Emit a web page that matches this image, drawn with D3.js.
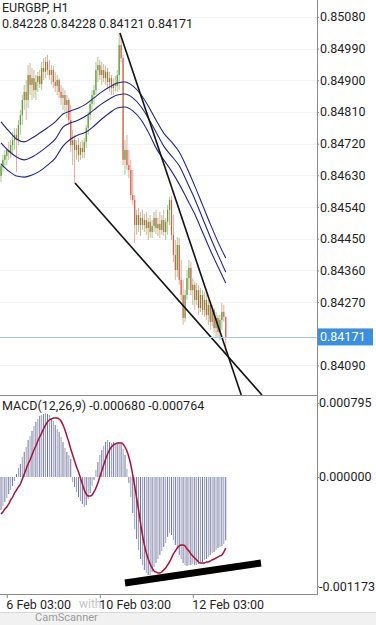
<!DOCTYPE html>
<html>
<head>
<meta charset="utf-8">
<script src="https://cdn.jsdelivr.net/npm/d3@7"></script>
<style>
  body { margin: 0; background: #fff; }
  svg { display: block; font-family: Roboto, "Noto Sans", sans-serif; }
</style>
</head>
<body>
<div id="chart"></div>
<script>
// EURGBP H1 bars, bar 0 = 6 Feb 00:00, last bar = 12 Feb 19:00
var opens = [0.84628,0.84657,0.84674,0.84685,0.84702,0.84696,0.84716,0.84730,0.84745,0.84730,
  0.84773,0.84801,0.84844,0.84867,0.84844,0.84915,0.84887,0.84906,0.84872,0.84895,
  0.84912,0.84889,0.84935,0.84924,0.84952,0.84929,0.84915,0.84929,0.84895,0.84884,
  0.84901,0.84867,0.84850,0.84858,0.84830,0.84844,0.84787,0.84716,0.84730,0.84702,
  0.84716,0.84688,0.84708,0.84696,0.84725,0.84764,0.84801,0.84833,0.84858,0.84872,
  0.84929,0.84943,0.84915,0.84929,0.84906,0.84924,0.84895,0.84906,0.84878,0.84889,
  0.84884,0.84915,0.85000,0.84963,0.84674,0.84702,0.84659,0.84645,0.84574,0.84560,
  0.84489,0.84517,0.84489,0.84509,0.84489,0.84503,0.84480,0.84498,0.84469,0.84486,
  0.84509,0.84480,0.84492,0.84475,0.84503,0.84469,0.84498,0.84532,0.84560,0.84461,
  0.84404,0.84361,0.84432,0.84333,0.84290,0.84225,0.84290,0.84338,0.84367,0.84304,
  0.84319,0.84276,0.84304,0.84253,0.84290,0.84248,0.84276,0.84233,0.84262,0.84214,
  0.84248,0.84196,0.84225,0.84185,0.84219,0.84242,0.84228];
var highs = [0.84665,0.84688,0.84702,0.84708,0.84725,0.84730,0.84753,0.84764,0.84764,0.84787,
  0.84816,0.84858,0.84887,0.84901,0.84943,0.84949,0.84935,0.84929,0.84915,0.84924,
  0.84929,0.84952,0.84963,0.84966,0.84972,0.84958,0.84943,0.84941,0.84924,0.84915,
  0.84906,0.84887,0.84878,0.84872,0.84858,0.84850,0.84830,0.84759,0.84745,0.84730,
  0.84736,0.84725,0.84730,0.84736,0.84773,0.84810,0.84844,0.84872,0.84887,0.84952,
  0.84966,0.84958,0.84952,0.84946,0.84941,0.84935,0.84924,0.84915,0.84906,0.84912,
  0.84929,0.85034,0.85026,0.84972,0.84730,0.84745,0.84702,0.84674,0.84645,0.84574,
  0.84532,0.84537,0.84526,0.84532,0.84520,0.84526,0.84509,0.84517,0.84503,0.84526,
  0.84532,0.84509,0.84526,0.84517,0.84532,0.84509,0.84546,0.84569,0.84571,0.84517,
  0.84446,0.84455,0.84452,0.84390,0.84333,0.84304,0.84361,0.84390,0.84384,0.84338,
  0.84327,0.84324,0.84319,0.84310,0.84304,0.84299,0.84290,0.84276,0.84270,0.84262,
  0.84253,0.84242,0.84233,0.84233,0.84267,0.84262,0.84228];
var lows = [0.84611,0.84640,0.84651,0.84659,0.84674,0.84679,0.84688,0.84702,0.84640,0.84716,
  0.84745,0.84773,0.84816,0.84787,0.84821,0.84858,0.84844,0.84850,0.84844,0.84867,
  0.84878,0.84872,0.84901,0.84906,0.84915,0.84901,0.84887,0.84878,0.84867,0.84858,
  0.84850,0.84830,0.84816,0.84810,0.84793,0.84773,0.84696,0.84659,0.84608,0.84674,
  0.84668,0.84674,0.84679,0.84679,0.84708,0.84745,0.84787,0.84816,0.84830,0.84858,
  0.84895,0.84901,0.84887,0.84895,0.84887,0.84878,0.84867,0.84858,0.84858,0.84867,
  0.84867,0.84872,0.84952,0.84659,0.84631,0.84645,0.84622,0.84560,0.84546,0.84438,
  0.84461,0.84469,0.84458,0.84475,0.84469,0.84461,0.84446,0.84452,0.84452,0.84469,
  0.84463,0.84458,0.84452,0.84461,0.84458,0.84446,0.84461,0.84489,0.84446,0.84384,
  0.84333,0.84341,0.84319,0.84276,0.84205,0.84214,0.84276,0.84304,0.84290,0.84262,
  0.84248,0.84262,0.84233,0.84242,0.84233,0.84228,0.84219,0.84205,0.84191,0.84202,
  0.84182,0.84171,0.84168,0.84162,0.84191,0.84214,0.84121];
var closes = [0.84657,0.84674,0.84688,0.84702,0.84696,0.84716,0.84730,0.84745,0.84730,0.84773,
  0.84801,0.84844,0.84867,0.84844,0.84915,0.84887,0.84906,0.84872,0.84895,0.84912,
  0.84889,0.84935,0.84924,0.84952,0.84929,0.84915,0.84929,0.84895,0.84884,0.84901,
  0.84867,0.84850,0.84858,0.84830,0.84844,0.84787,0.84716,0.84730,0.84702,0.84716,
  0.84688,0.84708,0.84696,0.84725,0.84764,0.84801,0.84833,0.84858,0.84872,0.84929,
  0.84943,0.84915,0.84929,0.84906,0.84924,0.84895,0.84906,0.84878,0.84889,0.84884,
  0.84915,0.85000,0.84963,0.84674,0.84702,0.84659,0.84645,0.84574,0.84560,0.84489,
  0.84517,0.84489,0.84509,0.84489,0.84503,0.84480,0.84498,0.84469,0.84486,0.84509,
  0.84480,0.84492,0.84475,0.84503,0.84469,0.84498,0.84532,0.84560,0.84461,0.84404,
  0.84361,0.84432,0.84333,0.84290,0.84225,0.84290,0.84338,0.84367,0.84304,0.84319,
  0.84276,0.84304,0.84253,0.84290,0.84248,0.84276,0.84233,0.84262,0.84214,0.84248,
  0.84196,0.84225,0.84185,0.84219,0.84242,0.84228,0.84171];

// three moving average lines, read every 4th bar
var maIdx = [0,4,8,12,16,20,24,28,32,36,40,44,48,52,56,60,64,68,72,76,80,84,88,92,96,100,104,108,112,116];
var maUpper = [0.84782,0.84756,0.84733,0.84725,0.84736,0.84750,0.84765,0.84782,0.84804,0.84813,
  0.84821,0.84833,0.84850,0.84867,0.84881,0.84892,0.84895,0.84884,0.84861,0.84827,
  0.84787,0.84750,0.84725,0.84696,0.84651,0.84600,0.84546,0.84492,0.84441,0.84395];
var maMiddle = [0.84722,0.84699,0.84682,0.84674,0.84682,0.84696,0.84713,0.84733,0.84767,0.84779,
  0.84787,0.84799,0.84816,0.84833,0.84847,0.84858,0.84861,0.84850,0.84827,0.84793,
  0.84753,0.84713,0.84685,0.84657,0.84611,0.84563,0.84509,0.84455,0.84404,0.84355];
var maLower = [0.84662,0.84642,0.84628,0.84625,0.84631,0.84642,0.84659,0.84679,0.84713,0.84733,
  0.84745,0.84753,0.84770,0.84790,0.84807,0.84821,0.84824,0.84813,0.84790,0.84753,
  0.84708,0.84674,0.84642,0.84605,0.84563,0.84520,0.84469,0.84418,0.84370,0.84324];

// MACD(12,26,9): histogram (main) and signal line
var macdMain = [-0.000354,-0.000311,-0.000269,-0.000226,-0.000183,-0.000140,-0.000097,-0.000043,0.000032,0.000097,
  0.000140,0.000215,0.000269,0.000322,0.000397,0.000440,0.000494,0.000548,0.000591,0.000623,
  0.000655,0.000666,0.000677,0.000687,0.000677,0.000666,0.000634,0.000601,0.000558,0.000516,
  0.000483,0.000430,0.000376,0.000311,0.000269,0.000236,0.000193,-0.000054,-0.000107,-0.000161,
  -0.000215,-0.000258,-0.000290,-0.000322,-0.000301,-0.000236,-0.000172,-0.000097,-0.000032,0.000075,
  0.000161,0.000236,0.000290,0.000333,0.000376,0.000397,0.000376,0.000365,0.000376,0.000365,
  0.000354,0.000376,0.000354,0.000301,0.000236,0.000086,-0.000064,-0.000215,-0.000387,-0.000558,
  -0.000666,-0.000784,-0.000881,-0.000945,-0.000999,-0.001031,-0.001053,-0.001053,-0.001020,-0.000967,
  -0.000924,-0.000881,-0.000838,-0.000795,-0.000752,-0.000709,-0.000644,-0.000601,-0.000623,-0.000677,
  -0.000730,-0.000773,-0.000838,-0.000881,-0.000924,-0.000945,-0.000956,-0.000945,-0.000945,-0.000934,
  -0.000945,-0.000945,-0.000934,-0.000924,-0.000913,-0.000891,-0.000881,-0.000859,-0.000838,-0.000816,
  -0.000806,-0.000784,-0.000763,-0.000752,-0.000741,-0.000720,-0.000680];
var macdSignal = [-0.000397,-0.000376,-0.000344,-0.000322,-0.000290,-0.000247,-0.000215,-0.000172,-0.000140,-0.000107,
  -0.000075,-0.000021,0.000032,0.000086,0.000140,0.000183,0.000236,0.000290,0.000333,0.000387,
  0.000430,0.000473,0.000516,0.000558,0.000591,0.000612,0.000623,0.000634,0.000634,0.000634,
  0.000623,0.000601,0.000558,0.000505,0.000440,0.000376,0.000301,0.000236,0.000172,0.000107,
  0.000054,-0.000011,-0.000075,-0.000140,-0.000183,-0.000204,-0.000204,-0.000193,-0.000161,-0.000118,
  -0.000064,0.000000,0.000064,0.000129,0.000193,0.000247,0.000290,0.000322,0.000344,0.000354,
  0.000365,0.000365,0.000365,0.000354,0.000322,0.000279,0.000215,0.000129,0.000021,-0.000097,
  -0.000226,-0.000354,-0.000494,-0.000623,-0.000730,-0.000816,-0.000881,-0.000934,-0.000977,-0.001010,
  -0.001020,-0.001031,-0.001031,-0.001020,-0.000999,-0.000977,-0.000945,-0.000913,-0.000870,-0.000827,
  -0.000795,-0.000763,-0.000741,-0.000730,-0.000730,-0.000741,-0.000773,-0.000795,-0.000827,-0.000848,
  -0.000870,-0.000891,-0.000913,-0.000924,-0.000924,-0.000924,-0.000913,-0.000913,-0.000902,-0.000891,
  -0.000881,-0.000870,-0.000859,-0.000848,-0.000838,-0.000806,-0.000764];

// hand drawn trend lines: [bar index, value]
var trendUpper = [[61.4, 0.85034], [124.0, 0.84006]];
var trendLower = [[38.2, 0.84608], [134.7, 0.84006]];
var trendMacd = [[64.0, -0.001139], [134.2, -0.000924]];

// axis labels
var priceTicks = [0.85080, 0.84990, 0.84900, 0.84810, 0.84720, 0.84630, 0.84540, 0.84450, 0.84360, 0.84270, 0.84090];
var macdTicks = [0.000795, 0.000000, -0.001173];
var timeIdx = [3, 51, 99];
var timeLabels = ["6 Feb 03:00", "10 Feb 03:00", "12 Feb 03:00"];

// -----------------------------------------------------------------------------

var svgWidth = 376;
var svgHeight = 625;
var plotRight = 317;
var mainBottom = 395;
var macdTop = 397;
var macdBottom = 594;

var svg = d3.select("#chart")
  .append("svg")
  .attr("width", svgWidth)
  .attr("height", svgHeight);

svg.append("rect").attr("width", svgWidth).attr("height", svgHeight).attr("fill", "#fff");

var bars = opens.map(function(o, i) {
  return {i: i, open: o, high: highs[i], low: lows[i], close: closes[i]};
});

var x = d3.scaleLinear().domain([0, 163]).range([1, 316.8]);
var y = d3.scaleLinear().domain([0.84006, 0.85128]).range([mainBottom, 0]);
var m = d3.scaleLinear().domain([-0.001257, 0.000859]).range([macdBottom, macdTop]);

var defs = svg.append("defs");
defs.append("clipPath").attr("id", "clipMain")
  .append("rect").attr("x", 0).attr("y", 0).attr("width", plotRight).attr("height", mainBottom);
defs.append("clipPath").attr("id", "clipMacd")
  .append("rect").attr("x", 0).attr("y", macdTop).attr("width", plotRight).attr("height", macdBottom - macdTop);

// -----------------------------------------------------------------------------
// main price panel

var mainGroup = svg.append("g").attr("clip-path", "url(#clipMain)");

// faint grid
mainGroup.selectAll(".hgrid")
  .data(priceTicks)
  .enter().append("line")
  .attr("x1", 0).attr("x2", plotRight)
  .attr("y1", d => Math.round(y(d)) + 0.5).attr("y2", d => Math.round(y(d)) + 0.5)
  .attr("stroke", "#f3f3f5");

var upColor = "#5e9a34", downColor = "#cf5f48";
var upWick = "#a9c98f", downWick = "#e8aa9b";

var barGroup = mainGroup.selectAll(".bar")
  .data(bars)
  .enter().append("g");

barGroup.append("line")
  .attr("x1", d => x(d.i)).attr("x2", d => x(d.i))
  .attr("y1", d => y(d.high)).attr("y2", d => y(d.low))
  .attr("stroke", d => d.close >= d.open ? upWick : downWick)
  .attr("stroke-width", 1);

barGroup.append("rect")
  .attr("x", d => x(d.i) - 0.6)
  .attr("width", 1.2)
  .attr("y", d => y(Math.max(d.open, d.close)))
  .attr("height", d => Math.max(1, Math.abs(y(d.open) - y(d.close))))
  .attr("fill", d => d.close >= d.open ? upColor : downColor);

// moving average lines
var maLine = d3.line()
  .x((d, k) => x(maIdx[k]))
  .y(d => y(d))
  .curve(d3.curveMonotoneX);

[maUpper, maMiddle, maLower].forEach(function(series) {
  mainGroup.append("path")
    .attr("d", maLine(series))
    .attr("fill", "none")
    .attr("stroke", "#22248a")
    .attr("stroke-width", 1.1);
});

// current price line
var lastClose = closes[closes.length - 1];
svg.append("line")
  .attr("x1", 0).attr("x2", plotRight)
  .attr("y1", Math.round(y(lastClose)) + 0.5).attr("y2", Math.round(y(lastClose)) + 0.5)
  .attr("stroke", "#9ec9ea")
  .attr("stroke-width", 1);

// trend lines
var trendLine = d3.line().x(d => x(d[0])).y(d => y(d[1]));
[trendUpper, trendLower].forEach(function(t) {
  mainGroup.append("path")
    .attr("d", trendLine(t))
    .attr("stroke", "#111")
    .attr("stroke-width", 1.6)
    .attr("fill", "none");
});

// -----------------------------------------------------------------------------
// MACD panel

var macdGroup = svg.append("g").attr("clip-path", "url(#clipMacd)");

macdGroup.selectAll(".hist")
  .data(macdMain)
  .enter().append("line")
  .attr("x1", (d, i) => x(i)).attr("x2", (d, i) => x(i))
  .attr("y1", m(0)).attr("y2", d => m(d))
  .attr("stroke", (d, i) => i % 2 ? "#9a9fbd" : "#6f7499")
  .attr("stroke-width", 1);

var sigLine = d3.line()
  .x((d, i) => x(i))
  .y(d => m(d))
  .curve(d3.curveMonotoneX);

macdGroup.append("path")
  .attr("d", sigLine(macdSignal))
  .attr("fill", "none")
  .attr("stroke", "#a8123a")
  .attr("stroke-width", 1.5);

macdGroup.append("path")
  .attr("d", d3.line().x(d => x(d[0])).y(d => m(d[1]))(trendMacd))
  .attr("stroke", "#000")
  .attr("stroke-width", 7)
  .attr("fill", "none");

// -----------------------------------------------------------------------------
// frame and axes

var frameColor = "#8a8a8a";
svg.append("line").attr("x1", plotRight + 0.5).attr("x2", plotRight + 0.5)
  .attr("y1", 0).attr("y2", macdBottom + 1).attr("stroke", frameColor);
svg.append("line").attr("x1", 0).attr("x2", plotRight)
  .attr("y1", mainBottom + 0.5).attr("y2", mainBottom + 0.5).attr("stroke", frameColor);
svg.append("line").attr("x1", 0).attr("x2", plotRight)
  .attr("y1", macdBottom + 0.5).attr("y2", macdBottom + 0.5).attr("stroke", frameColor);

var fontSize = "12.5px";
var textColor = "#1e1e1e";

var priceAxis = svg.append("g")
  .attr("transform", `translate(${plotRight}, 0)`)
  .call(d3.axisRight(y).tickValues(priceTicks).tickFormat(d => d.toFixed(5)).tickSize(2).tickPadding(1));

var macdAxis = svg.append("g")
  .attr("transform", `translate(${plotRight}, 0)`)
  .call(d3.axisRight(m).tickValues(macdTicks).tickFormat(d => d.toFixed(6)).tickSize(2).tickPadding(0));

// scanner watermark peeking out between the time labels
svg.append("text")
  .attr("x", 79).attr("y", 608)
  .style("font-size", "12px")
  .attr("fill", "#c4c4c4")
  .text("with");

var timeAxis = svg.append("g")
  .attr("transform", `translate(0, ${macdBottom})`)
  .call(d3.axisBottom(x).tickValues(timeIdx).tickFormat((d, k) => timeLabels[k]).tickSize(4).tickPadding(2));
timeAxis.selectAll("text").attr("text-anchor", "start").attr("dx", "-1");

[priceAxis, macdAxis, timeAxis].forEach(function(a) {
  a.select(".domain").remove();
  a.selectAll("line").attr("stroke", frameColor);
  a.selectAll("text").style("font-size", fontSize).attr("fill", textColor)
    .style("font-family", "Roboto, 'Noto Sans', sans-serif");
});

// current price tag
var tagY = y(lastClose);
svg.append("rect")
  .attr("x", plotRight + 1).attr("y", tagY - 8.5)
  .attr("width", 55).attr("height", 17)
  .attr("fill", "#3b8fe3");
svg.append("text")
  .attr("x", plotRight + 3).attr("y", tagY + 4.5)
  .attr("fill", "#fff")
  .style("font-size", fontSize)
  .text(lastClose.toFixed(5));

// headers
var last = bars[bars.length - 1];
svg.append("text").attr("x", 2).attr("y", 12)
  .style("font-size", fontSize).attr("fill", textColor)
  .text("EURGBP, H1");
svg.append("text").attr("x", 2).attr("y", 28)
  .style("font-size", fontSize).attr("fill", textColor)
  .text([last.open, last.high, last.low, last.close].map(d => d.toFixed(5)).join(" "));
svg.append("text").attr("x", 2).attr("y", 410)
  .style("font-size", fontSize).attr("fill", textColor)
  .text("MACD(12,26,9) " + macdMain[macdMain.length - 1].toFixed(6) + " " + macdSignal[macdSignal.length - 1].toFixed(6));

// phone navigation strip at the bottom
svg.append("rect").attr("x", 0).attr("y", 612).attr("width", svgWidth).attr("height", 13).attr("fill", "#f1f1f1");
svg.append("line").attr("x1", 0).attr("x2", svgWidth).attr("y1", 612.5).attr("y2", 612.5).attr("stroke", "#d8d8d8");
svg.append("text").attr("x", 35).attr("y", 621)
  .style("font-size", "11px").attr("fill", "#9a9a9a")
  .text("CamScanner");
</script>
</body>
</html>
